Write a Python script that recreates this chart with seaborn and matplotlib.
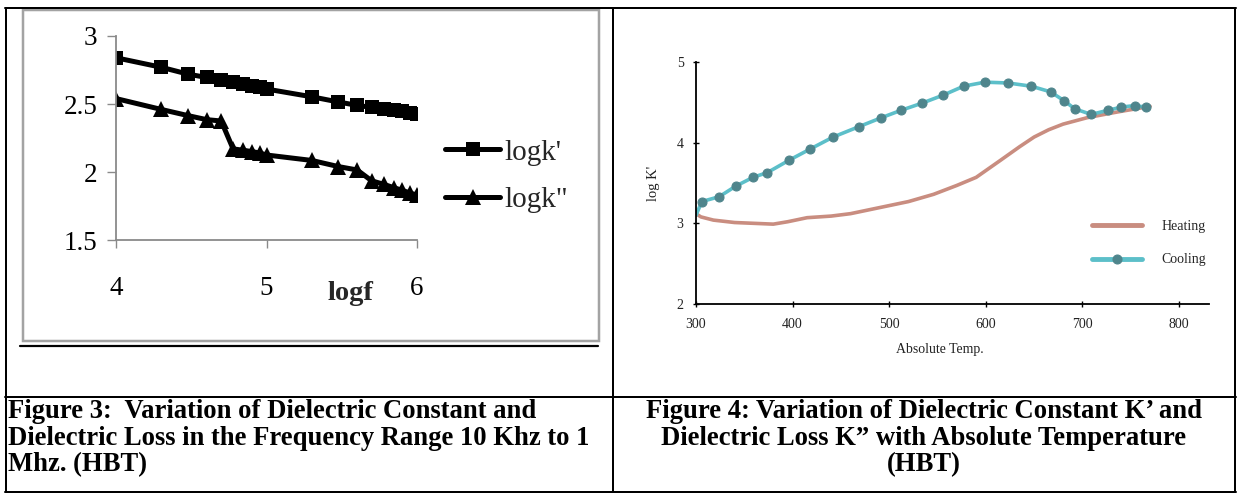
import matplotlib
matplotlib.use("Agg")
import matplotlib.pyplot as plt
import seaborn as sns
import pandas as pd
from matplotlib.lines import Line2D
from matplotlib.patches import Rectangle

# ---------------- data: Figure 3 (frequency dependence) ----------------
logf = [4.0, 4.301, 4.477, 4.602, 4.699, 4.778, 4.845, 4.903, 4.954, 5.0,
        5.301, 5.477, 5.602, 5.699, 5.778, 5.845, 5.903, 5.954, 6.0]
logk1 = [2.84, 2.77, 2.72, 2.695, 2.68, 2.665, 2.65, 2.635, 2.625, 2.61,
         2.553, 2.515, 2.49, 2.475, 2.465, 2.455, 2.445, 2.437, 2.43]
logk2 = [2.54, 2.46, 2.415, 2.385, 2.375, 2.17, 2.16, 2.15, 2.14, 2.125,
         2.085, 2.04, 2.015, 1.935, 1.91, 1.885, 1.865, 1.845, 1.83]
left_xticks = [4, 5, 6]
left_yticks = [1.5, 2, 2.5, 3]
left_ytick_labels = ["1.5", "2", "2.5", "3"]

# ---------------- data: Figure 4 (temperature dependence) ----------------
temp_cool = [300, 306, 324, 341, 359, 374, 396, 418, 442, 469, 492, 512, 534,
             556, 577, 599, 623, 647, 667, 681, 692, 709, 726, 740, 754, 766]
logK_cool = [3.10, 3.27, 3.33, 3.46, 3.57, 3.63, 3.78, 3.92, 4.07, 4.20, 4.31,
             4.40, 4.49, 4.59, 4.70, 4.75, 4.74, 4.70, 4.63, 4.52, 4.42, 4.35,
             4.40, 4.44, 4.46, 4.44]
temp_heat = [300, 305, 318, 340, 360, 380, 395, 415, 440, 460, 500, 520, 546,
             570, 590, 615, 635, 650, 665, 680, 705, 736, 770]
logK_heat = [3.12, 3.08, 3.04, 3.01, 3.00, 2.99, 3.02, 3.07, 3.09, 3.12, 3.22,
             3.27, 3.36, 3.47, 3.57, 3.78, 3.95, 4.07, 4.16, 4.23, 4.31, 4.38,
             4.45]
right_xticks = [300, 400, 500, 600, 700, 800]
right_yticks = [2, 3, 4, 5]

cap3 = ["Figure 3:  Variation of Dielectric Constant and",
        "Dielectric Loss in the Frequency Range 10 Khz to 1",
        "Mhz. (HBT)"]
cap4 = ["Figure 4: Variation of Dielectric Constant K\u2019 and",
        "Dielectric Loss K\u201d with Absolute Temperature",
        "(HBT)"]

sns.set_theme(style="white")
plt.rcParams["font.family"] = ["Liberation Serif", "DejaVu Serif"]

W, H = 1239, 494
fig = plt.figure(figsize=(W / 100, H / 100), dpi=100)
fig.patch.set_facecolor("white")


def rect(x0, y0, x1, y1):
    return [x0 / W, 1 - y1 / H, (x1 - x0) / W, (y1 - y0) / H]


def fx(x):
    return x / W


def fy(y):
    return 1 - y / H


PT = 0.72  # points per pixel at dpi 100


def hline(y, x0, x1, color="black", lw=2):
    fig.add_artist(Line2D([fx(x0), fx(x1)], [fy(y), fy(y)], color=color,
                          lw=lw * PT, transform=fig.transFigure))


def vline(x, y0, y1, color="black", lw=2):
    fig.add_artist(Line2D([fx(x), fx(x)], [fy(y0), fy(y1)], color=color,
                          lw=lw * PT, transform=fig.transFigure))


# ---------------- table lines ----------------
hline(8, 5, 1236)
hline(397, 5, 1236)
hline(492, 5, 1236)
vline(6, 8, 492)
vline(613, 8, 492)
vline(1235, 8, 492)

# left chart frame
fig.add_artist(Rectangle((fx(23), fy(341)), fx(599) - fx(23), fy(10) - fy(341),
                         fill=False, edgecolor="#a3a3a3", lw=2.5 * PT,
                         transform=fig.transFigure))
hline(346, 20, 598, lw=2.2)

# ---------------- left chart ----------------
ax1 = fig.add_axes(rect(116, 36, 417, 240))
ax1.set_facecolor("none")
sns.lineplot(x=logf, y=logk1, ax=ax1, color="black", lw=3.6, marker="s",
             markersize=10.5, markeredgecolor="black", markeredgewidth=0,
             label="logk'")
sns.lineplot(x=logf, y=logk2, ax=ax1, color="black", lw=3.6, marker="^",
             markersize=11, markeredgecolor="black", markeredgewidth=0,
             label="logk\"")
ax1.set_xlim(4, 6)
ax1.set_ylim(1.5, 3)
ax1.set_xticks(left_xticks)
ax1.set_yticks(left_yticks)
ax1.set_yticklabels(left_ytick_labels)
for s in ["top", "right"]:
    ax1.spines[s].set_visible(False)
for s in ["left", "bottom"]:
    ax1.spines[s].set_color("#8a8a8a")
    ax1.spines[s].set_linewidth(1.3)
ax1.tick_params(axis="y", which="both", left=True, length=6.5, width=1,
                color="#8a8a8a", labelsize=19.5, pad=7, labelcolor="black")
ax1.tick_params(axis="x", which="both", bottom=True, length=6, width=1,
                color="#8a8a8a", labelsize=19.5, pad=20, labelcolor="black")
ax1.set_xlabel("logf", fontsize=20.5, fontweight="bold")
ax1.xaxis.set_label_coords((350 - 116) / 301, -(293 - 240) / 204)
ax1.xaxis.label.set_va("center")
ax1.set_ylabel("")
ax1.grid(False)
ax1.legend(loc="center left", bbox_to_anchor=(fx(445), fy(176)),
           bbox_transform=fig.transFigure, frameon=False, fontsize=21,
           handlelength=1.9, handletextpad=0.12, labelspacing=0.72,
           borderpad=0, borderaxespad=0)

# ---------------- right chart ----------------
ax2 = fig.add_axes(rect(696, 62, 1209, 304))
ax2.set_facecolor("none")
heat_c = "#c98d80"
cool_c = "#5cbfc9"
cool_m = "#4f858c"
sns.lineplot(x=temp_heat, y=logK_heat, ax=ax2, color=heat_c, lw=2.6,
             label="Heating", sort=False)
sns.lineplot(x=temp_cool, y=logK_cool, ax=ax2, color=cool_c, lw=2.6,
             marker="o", markersize=6.5, markerfacecolor=cool_m,
             markeredgecolor=cool_m, markevery=list(range(1, len(temp_cool))),
             label="Cooling", sort=False)
ax2.set_xlim(300, 831)
ax2.set_ylim(2, 5)
ax2.set_xticks(right_xticks)
ax2.set_yticks(right_yticks)
for s in ["top", "right"]:
    ax2.spines[s].set_visible(False)
for s in ["left", "bottom"]:
    ax2.spines[s].set_color("black")
    ax2.spines[s].set_linewidth(1.3)
ax2.tick_params(axis="both", which="both", left=True, bottom=True,
                direction="inout", length=4, width=1, color="black",
                labelsize=10, labelcolor="#222222")
ax2.tick_params(axis="y", pad=7)
ax2.tick_params(axis="x", pad=8)
ax2.set_ylabel("log K'", fontsize=10.5, color="#222222")
ax2.yaxis.set_label_coords((660 - 696) / 513, 0.5)
ax2.set_xlabel("Absolute Temp.", fontsize=10, color="#222222")
ax2.xaxis.set_label_coords((940 - 696) / 513, -(349 - 304) / 242)
ax2.xaxis.label.set_va("center")
ax2.grid(False)
leg2 = ax2.legend(loc="center left", bbox_to_anchor=(fx(1092), fy(243)),
                  bbox_transform=fig.transFigure, frameon=False, fontsize=10,
                  handlelength=3.6, handletextpad=1.4, labelspacing=1.5,
                  borderpad=0, borderaxespad=0)
for h in leg2.legend_handles:
    h.set_linewidth(3.5)

# ---------------- captions ----------------
for i, line in enumerate(cap3):
    fig.text(fx(8), fy(411 + 27 * i), line, ha="left", va="center",
             fontsize=19.2, fontweight="bold", color="black")
for i, line in enumerate(cap4):
    fig.text(fx(924), fy(411 + 27 * i), line, ha="center", va="center",
             fontsize=19.2, fontweight="bold", color="black")

fig.savefig("out.png", dpi=100, facecolor="white")
